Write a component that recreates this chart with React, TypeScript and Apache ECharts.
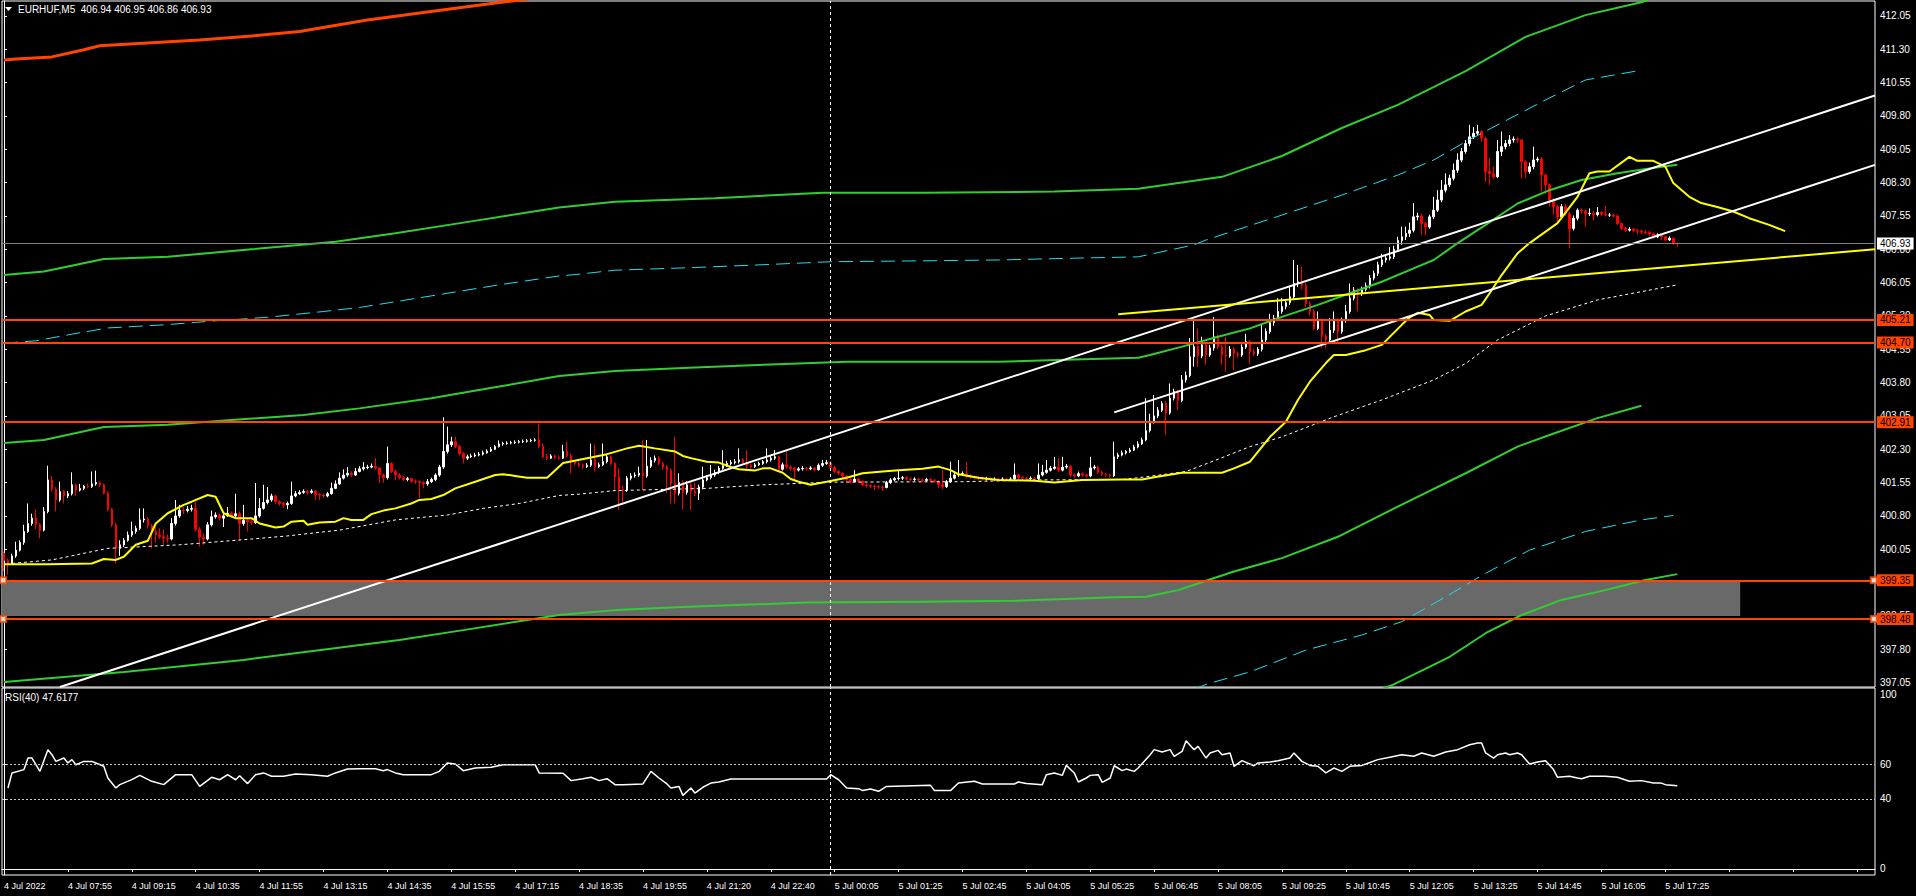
import React, { useEffect, useRef } from "react";
import * as echarts from "echarts";

const FONT = "'Liberation Sans', Arial, sans-serif";
const ORANGE = "#FF4500";
const GREEN = "#32CD32";
const CYAN = "#22DDEE";
const YELLOW = "#FFFF00";

const symbolName = "EURHUF,M5";
const rsiName = "RSI(40)";
const totalSlots = 469;

const timeLabels = [
  "4 Jul 2022", "4 Jul 07:55", "4 Jul 09:15", "4 Jul 10:35", "4 Jul 11:55", "4 Jul 13:15", "4 Jul 14:35",
  "4 Jul 15:55", "4 Jul 17:15", "4 Jul 18:35", "4 Jul 19:55", "4 Jul 21:20", "4 Jul 22:40", "5 Jul 00:05",
  "5 Jul 01:25", "5 Jul 02:45", "5 Jul 04:05", "5 Jul 05:25", "5 Jul 06:45", "5 Jul 08:05", "5 Jul 09:25",
  "5 Jul 10:45", "5 Jul 12:05", "5 Jul 13:25", "5 Jul 14:45", "5 Jul 16:05", "5 Jul 17:25",
];
const labelEvery = 16;

const firstOpen = 399.96;
const closes = [
  399.80, 399.73, 399.90, 400.03, 400.20, 400.45, 400.63, 400.75, 400.60, 400.48,
  400.90, 401.61, 401.40, 401.16, 401.35, 401.25, 401.30, 401.50, 401.38, 401.42,
  401.47, 401.46, 401.52, 401.55, 401.50, 401.31, 400.95, 400.60, 400.07, 400.15,
  400.25, 400.37, 400.45, 400.52, 400.71, 400.73, 400.58, 400.45, 400.37, 400.33,
  400.30, 400.28, 400.63, 400.80, 400.93, 400.92, 400.95, 400.97, 400.50, 400.32,
  400.28, 400.60, 400.78, 400.82, 400.75, 400.80, 400.86, 400.80, 400.85, 400.63,
  400.70, 400.67, 400.65, 400.80, 400.97, 401.10, 401.16, 401.25, 401.12, 401.08,
  401.05, 401.08, 401.25, 401.30, 401.33, 401.35, 401.33, 401.36, 401.28, 401.27,
  401.25, 401.30, 401.42, 401.52, 401.65, 401.72, 401.76, 401.72, 401.80, 401.86,
  401.89, 401.90, 401.92, 401.88, 401.72, 401.66, 401.98, 401.80, 401.72, 401.66,
  401.62, 401.64, 401.58, 401.57, 401.55, 401.52, 401.57, 401.62, 401.72, 401.90,
  402.25, 402.40, 402.47, 402.36, 402.20, 402.10, 402.13, 402.15, 402.17, 402.19,
  402.22, 402.26, 402.30, 402.36, 402.42, 402.43, 402.44, 402.45, 402.46, 402.47,
  402.48, 402.49, 402.50, 402.51, 402.36, 402.13, 402.10, 402.15, 402.12, 402.10,
  402.25, 402.15, 402.02, 401.98, 401.94, 401.91, 401.94, 402.06, 401.91, 401.95,
  402.02, 402.13, 401.98, 401.68, 401.40, 401.38, 401.65, 401.70, 401.72, 401.76,
  401.70, 401.92, 402.05, 402.10, 401.98, 401.90, 401.83, 401.53, 401.31, 401.55,
  401.33, 401.50, 401.35, 401.31, 401.45, 401.61, 401.66, 401.72, 401.78, 401.87,
  401.93, 401.98, 402.00, 402.02, 402.06, 401.98, 401.94, 401.91, 401.95, 401.98,
  402.02, 402.06, 402.10, 402.13, 401.85, 401.95, 401.90, 401.87, 401.83, 401.86,
  401.87, 401.86, 401.88, 401.84, 401.94, 401.98, 402.00, 401.89, 401.80, 401.76,
  401.70, 401.62, 401.57, 401.63, 401.58, 401.50, 401.48, 401.47, 401.46, 401.45,
  401.44, 401.55, 401.61, 401.64, 401.65, 401.66, 401.63, 401.62, 401.63, 401.61,
  401.60, 401.62, 401.60, 401.58, 401.50, 401.46, 401.57, 401.65, 401.72, 401.74,
  401.75, 401.70, 401.68, 401.66, 401.65, 401.63, 401.64, 401.62, 401.63, 401.62,
  401.63, 401.62, 401.63, 401.72, 401.66, 401.65, 401.64, 401.65, 401.64, 401.72,
  401.78, 401.83, 401.87, 401.90, 401.83, 401.90, 401.92, 401.72, 401.70, 401.75,
  401.72, 401.70, 401.88, 401.90, 401.78, 401.74, 401.72, 401.70, 402.13, 402.17,
  402.22, 402.25, 402.28, 402.35, 402.42, 402.51, 402.72, 402.92, 403.05, 403.18,
  403.33, 403.12, 403.45, 403.60, 403.40, 403.86, 403.96, 404.38, 404.61, 404.40,
  404.65, 404.42, 404.58, 404.83, 404.60, 404.42, 404.40, 404.55, 404.45, 404.42,
  404.60, 404.72, 404.50, 404.45, 404.55, 404.76, 404.95, 405.15, 405.25, 405.40,
  405.51, 405.60, 405.73, 406.03, 406.07, 405.99, 405.58, 405.40, 405.02, 405.21,
  404.85, 404.76, 404.98, 405.21, 404.95, 405.20, 405.40, 405.70, 405.88, 405.80,
  405.90, 405.98, 406.15, 406.26, 406.45, 406.56, 406.60, 406.63, 406.80, 407.00,
  407.08, 407.16, 407.23, 407.53, 407.55, 407.38, 407.30, 407.53, 407.68, 407.91,
  408.13, 408.25, 408.40, 408.58, 408.81, 409.00, 409.18, 409.33, 409.41, 409.45,
  409.30, 408.55, 408.50, 408.43, 409.00, 409.11, 409.18, 409.26, 409.28, 409.26,
  408.77, 408.55, 408.66, 408.81, 408.83, 408.47, 408.25, 407.91, 407.76, 407.53,
  407.76, 407.60, 407.27, 407.50, 407.68, 407.66, 407.60, 407.61, 407.58, 407.63,
  407.59, 407.57, 407.57, 407.55, 407.38, 407.27, 407.23, 407.25, 407.22, 407.21,
  407.19, 407.18, 407.15, 407.08, 407.12, 407.08, 407.01, 407.05, 406.94, 406.93,
];
const highs = [
  400.00, 399.84, 399.95, 400.22, 400.25, 400.60, 401.08, 400.85, 400.95, 400.64,
  401.00, 401.93, 401.70, 401.45, 401.57, 401.38, 401.36, 401.78, 401.53, 401.52,
  401.50, 401.53, 401.80, 401.82, 401.58, 401.53, 401.35, 400.98, 400.65, 400.25,
  400.30, 400.45, 400.67, 400.58, 400.97, 400.97, 400.78, 400.62, 400.55, 400.52,
  400.50, 400.38, 400.75, 401.16, 401.05, 401.00, 401.02, 401.05, 401.12, 400.55,
  400.40, 400.66, 400.92, 400.88, 400.85, 400.84, 401.00, 400.90, 401.30, 400.90,
  401.05, 400.75, 400.72, 401.54, 401.20, 401.50, 401.45, 401.30, 401.28, 401.15,
  401.12, 401.12, 401.57, 401.36, 401.38, 401.40, 401.38, 401.40, 401.38, 401.32,
  401.30, 401.34, 401.55, 401.60, 401.78, 401.85, 401.90, 401.80, 401.88, 401.92,
  402.01, 401.95, 401.98, 402.10, 401.90, 401.75, 402.36, 402.00, 401.84, 401.76,
  401.70, 401.68, 401.66, 401.62, 401.60, 401.58, 401.63, 401.66, 401.76, 401.95,
  403.02, 402.81, 402.58, 402.58, 402.40, 402.24, 402.18, 402.20, 402.22, 402.24,
  402.27, 402.30, 402.35, 402.40, 402.50, 402.47, 402.48, 402.49, 402.50, 402.51,
  402.52, 402.53, 402.54, 402.55, 402.88, 402.43, 402.20, 402.19, 402.18, 402.16,
  402.40, 402.47, 402.20, 402.06, 402.02, 401.98, 401.99, 402.43, 402.40, 402.00,
  402.43, 402.20, 402.16, 402.00, 401.87, 401.48, 401.70, 401.76, 401.78, 401.91,
  402.51, 402.51, 402.12, 402.16, 402.14, 402.02, 401.95, 401.87, 402.58, 401.76,
  401.60, 401.58, 401.55, 401.55, 401.50, 401.91, 401.72, 401.95, 401.84, 401.92,
  402.28, 402.04, 402.06, 402.08, 402.32, 402.10, 402.28, 401.98, 401.99, 402.02,
  402.06, 402.32, 402.15, 402.28, 402.15, 402.00, 402.28, 401.94, 401.90, 401.90,
  401.92, 401.90, 401.92, 401.90, 401.98, 402.06, 402.06, 402.03, 401.92, 401.83,
  401.78, 401.72, 401.65, 401.83, 401.66, 401.60, 401.53, 401.51, 401.50, 401.49,
  401.48, 401.59, 401.65, 401.68, 401.83, 401.70, 401.69, 401.66, 401.67, 401.66,
  401.64, 401.66, 401.65, 401.63, 401.60, 401.83, 401.61, 402.02, 401.78, 402.06,
  401.80, 402.02, 401.74, 401.71, 401.70, 401.68, 401.68, 401.67, 401.67, 401.66,
  401.67, 401.66, 401.67, 401.98, 401.75, 401.70, 401.68, 401.69, 401.68, 401.98,
  401.95, 402.06, 401.92, 402.13, 402.10, 402.13, 401.97, 401.95, 401.76, 401.80,
  401.78, 401.75, 402.13, 401.95, 401.93, 401.82, 401.77, 401.75, 402.47, 402.22,
  402.27, 402.28, 402.33, 402.40, 402.48, 402.56, 403.45, 403.10, 403.52, 403.25,
  403.38, 403.38, 403.78, 403.66, 403.64, 403.97, 404.05, 404.80, 405.21, 405.02,
  404.83, 404.70, 404.65, 405.28, 404.88, 404.66, 404.83, 404.62, 404.60, 404.50,
  404.66, 404.90, 404.76, 404.55, 404.60, 405.10, 405.02, 405.35, 405.32, 405.70,
  405.70, 405.66, 405.95, 406.56, 406.45, 406.41, 406.05, 405.62, 405.45, 405.40,
  405.25, 404.90, 405.25, 405.40, 405.25, 405.26, 405.55, 406.03, 405.95, 405.92,
  405.96, 406.05, 406.22, 406.32, 406.52, 406.70, 406.68, 406.85, 406.88, 407.08,
  407.31, 407.31, 407.40, 407.84, 407.62, 407.60, 407.42, 407.58, 407.98, 408.13,
  408.36, 408.51, 408.48, 408.73, 408.96, 409.08, 409.26, 409.60, 409.55, 409.60,
  409.48, 409.33, 408.85, 408.66, 409.26, 409.45, 409.26, 409.37, 409.34, 409.32,
  409.28, 408.80, 408.75, 409.11, 408.88, 408.88, 408.50, 408.28, 407.95, 407.80,
  407.82, 407.82, 407.64, 407.56, 407.72, 407.72, 407.70, 407.72, 407.66, 407.75,
  407.66, 407.78, 407.62, 407.60, 407.58, 407.40, 407.30, 407.30, 407.28, 407.26,
  407.24, 407.23, 407.21, 407.17, 407.16, 407.14, 407.10, 407.09, 407.06, 406.95,
];
const lows = [
  399.55, 399.47, 399.70, 399.86, 400.00, 400.15, 400.42, 400.58, 400.50, 400.30,
  400.45, 400.86, 401.35, 400.90, 401.12, 401.08, 401.20, 401.26, 401.25, 401.35,
  401.38, 401.42, 401.43, 401.48, 401.45, 401.28, 400.90, 400.55, 399.73, 399.90,
  400.10, 400.22, 400.33, 400.40, 400.48, 400.65, 400.52, 400.07, 400.20, 400.28,
  400.15, 400.20, 400.25, 400.58, 400.76, 400.84, 400.88, 400.90, 400.45, 400.11,
  400.15, 400.25, 400.56, 400.74, 400.70, 400.55, 400.78, 400.76, 400.78, 400.26,
  400.58, 400.45, 400.60, 400.62, 400.76, 400.94, 401.06, 401.12, 401.08, 401.03,
  400.98, 400.95, 401.05, 401.22, 401.27, 401.30, 401.28, 401.30, 401.15, 401.16,
  401.20, 401.22, 401.28, 401.40, 401.50, 401.62, 401.68, 401.68, 401.70, 401.78,
  401.82, 401.85, 401.87, 401.84, 401.54, 401.55, 401.62, 401.76, 401.60, 401.62,
  401.58, 401.58, 401.54, 401.52, 401.20, 401.42, 401.48, 401.54, 401.58, 401.68,
  401.86, 402.20, 402.35, 402.32, 402.16, 401.98, 402.06, 402.10, 402.12, 402.14,
  402.16, 402.20, 402.24, 402.28, 402.34, 402.38, 402.40, 402.41, 402.42, 402.43,
  402.44, 402.45, 402.46, 402.47, 402.32, 402.10, 402.05, 402.08, 402.08, 402.06,
  402.08, 402.12, 401.76, 401.94, 401.90, 401.86, 401.88, 401.90, 401.80, 401.88,
  401.92, 401.98, 401.94, 401.38, 400.93, 401.10, 401.34, 401.60, 401.66, 401.68,
  401.38, 401.66, 401.88, 402.00, 401.94, 401.84, 401.31, 401.08, 401.08, 401.26,
  400.95, 401.28, 400.93, 401.24, 401.16, 401.40, 401.58, 401.62, 401.68, 401.74,
  401.84, 401.90, 401.94, 401.96, 401.98, 401.94, 401.83, 401.86, 401.88, 401.92,
  401.95, 401.98, 402.02, 402.06, 401.80, 401.82, 401.86, 401.82, 401.61, 401.80,
  401.82, 401.82, 401.83, 401.80, 401.82, 401.90, 401.95, 401.85, 401.76, 401.72,
  401.65, 401.55, 401.53, 401.55, 401.54, 401.47, 401.44, 401.42, 401.38, 401.41,
  401.36, 401.42, 401.52, 401.58, 401.60, 401.61, 401.60, 401.58, 401.59, 401.58,
  401.56, 401.57, 401.56, 401.54, 401.42, 401.40, 401.43, 401.54, 401.62, 401.68,
  401.70, 401.66, 401.64, 401.62, 401.61, 401.59, 401.60, 401.58, 401.59, 401.58,
  401.59, 401.58, 401.59, 401.60, 401.62, 401.61, 401.60, 401.61, 401.60, 401.61,
  401.69, 401.75, 401.80, 401.84, 401.79, 401.80, 401.86, 401.68, 401.66, 401.67,
  401.68, 401.66, 401.67, 401.84, 401.74, 401.70, 401.68, 401.66, 401.68, 402.08,
  402.14, 402.18, 402.22, 402.26, 402.32, 402.40, 402.48, 402.68, 402.88, 403.00,
  403.14, 402.62, 403.08, 403.40, 403.18, 403.36, 403.80, 403.92, 404.16, 404.16,
  404.35, 404.20, 404.38, 404.52, 404.55, 404.20, 404.05, 404.36, 404.08, 404.36,
  404.38, 404.56, 404.23, 404.40, 404.40, 404.50, 404.70, 404.90, 405.08, 405.20,
  405.35, 405.45, 405.55, 405.68, 405.95, 405.90, 405.50, 405.30, 404.98, 404.98,
  404.57, 404.57, 404.70, 404.92, 404.68, 404.90, 405.15, 405.35, 405.65, 405.40,
  405.75, 405.85, 405.92, 406.10, 406.20, 406.40, 406.50, 406.55, 406.58, 406.75,
  406.90, 407.01, 407.08, 407.18, 407.45, 407.12, 407.12, 407.26, 407.48, 407.64,
  407.86, 408.08, 408.20, 408.35, 408.52, 408.76, 408.95, 409.12, 409.28, 409.36,
  409.22, 408.32, 408.25, 408.38, 408.40, 408.90, 409.05, 409.12, 409.20, 409.20,
  408.40, 408.40, 408.50, 408.60, 408.76, 408.10, 408.05, 407.76, 407.57, 407.38,
  407.48, 407.55, 406.82, 407.22, 407.45, 407.60, 407.31, 407.55, 407.45, 407.54,
  407.55, 407.54, 407.53, 407.51, 407.35, 407.23, 407.19, 407.20, 407.18, 407.14,
  407.14, 407.14, 407.10, 407.04, 407.05, 407.00, 406.98, 406.99, 406.90, 406.86,
];

// indicator curves, [bar index, price]
const envelopeTop = [[0, 411.06], [3, 411.08], [12, 411.13], [20, 411.29], [24, 411.38], [37, 411.45], [49, 411.51], [62, 411.60], [74, 411.70], [91, 411.96], [106, 412.14], [123, 412.34], [139, 412.52]];
const maFast = [[0, 399.71], [11, 399.71], [22, 399.73], [25, 399.83], [28, 399.81], [30, 399.88], [33, 400.15], [36, 400.24], [38, 400.63], [41, 400.86], [45, 401.05], [47, 401.12], [51, 401.27], [53, 401.23], [55, 400.86], [58, 400.75], [62, 400.75], [64, 400.63], [68, 400.54], [70, 400.56], [72, 400.67], [75, 400.69], [76, 400.60], [79, 400.65], [83, 400.67], [85, 400.75], [87, 400.71], [90, 400.71], [92, 400.84], [95, 400.92], [98, 400.97], [102, 401.08], [104, 401.16], [107, 401.18], [110, 401.27], [113, 401.42], [118, 401.57], [123, 401.72], [125, 401.74], [128, 401.70], [131, 401.66], [136, 401.66], [140, 401.99], [146, 402.10], [151, 402.19], [156, 402.32], [159, 402.38], [163, 402.32], [168, 402.25], [170, 402.15], [172, 402.10], [176, 402.02], [179, 402.00], [182, 401.90], [184, 401.85], [188, 401.82], [190, 401.87], [192, 401.87], [195, 401.77], [197, 401.63], [199, 401.57], [202, 401.50], [206, 401.57], [211, 401.66], [215, 401.76], [220, 401.80], [224, 401.83], [230, 401.86], [234, 401.91], [237, 401.83], [239, 401.74], [244, 401.66], [249, 401.61], [258, 401.59], [263, 401.55], [270, 401.61], [280, 401.62], [285, 401.62], [288, 401.67], [295, 401.77], [305, 401.77], [308, 401.87], [312, 402.02], [317, 402.58], [321, 402.92], [324, 403.41], [327, 403.82], [331, 404.24], [333, 404.42], [336, 404.42], [341, 404.53], [345, 404.65], [347, 404.83], [350, 405.10], [352, 405.27], [354, 405.37], [357, 405.32], [358, 405.21], [362, 405.19], [366, 405.40], [370, 405.55], [372, 405.81], [375, 406.22], [379, 406.71], [382, 406.94], [389, 407.39], [394, 407.98], [397, 408.51], [399, 408.55], [402, 408.55], [407, 408.88], [409, 408.79], [413, 408.79], [416, 408.66], [418, 408.29], [422, 407.98], [425, 407.84], [429, 407.75], [433, 407.65], [437, 407.50], [442, 407.35], [446, 407.21]];
const maSlow = [[2, 399.73], [12, 399.81], [26, 400.07], [44, 400.15], [62, 400.28], [71, 400.35], [84, 400.48], [98, 400.71], [111, 400.82], [120, 400.97], [129, 401.08], [139, 401.26], [144, 401.29], [153, 401.37], [176, 401.42], [190, 401.50], [207, 401.56], [240, 401.57], [259, 401.61], [280, 401.62], [286, 401.68], [296, 401.80], [303, 402.04], [312, 402.36], [320, 402.58], [333, 403.03], [345, 403.41], [358, 403.86], [366, 404.23], [374, 404.76], [386, 405.30], [399, 405.66], [419, 406.00]];
const bandUpperOuter = [[0, 406.22], [10, 406.30], [25, 406.58], [41, 406.63], [62, 406.80], [83, 406.97], [98, 407.16], [115, 407.40], [139, 407.74], [153, 407.87], [178, 407.95], [205, 408.07], [230, 408.07], [263, 408.10], [284, 408.16], [305, 408.43], [320, 408.90], [335, 409.53], [349, 410.05], [366, 410.81], [381, 411.58], [396, 412.07], [410, 412.36], [414, 412.50]];
const bandUpperMid = [[0, 404.69], [8, 404.74], [17, 404.89], [26, 405.03], [40, 405.10], [53, 405.19], [66, 405.27], [80, 405.40], [89, 405.49], [98, 405.62], [111, 405.81], [124, 406.00], [139, 406.20], [144, 406.24], [153, 406.33], [173, 406.39], [192, 406.46], [207, 406.52], [230, 406.54], [249, 406.56], [268, 406.60], [284, 406.63], [298, 406.90], [301, 407.01], [320, 407.57], [335, 408.02], [349, 408.47], [358, 408.81], [366, 409.22], [374, 409.60], [386, 410.16], [396, 410.61], [410, 410.83]];
const bandUpperInner = [[0, 402.44], [10, 402.51], [25, 402.80], [41, 402.85], [57, 402.96], [75, 403.07], [89, 403.22], [107, 403.45], [124, 403.71], [139, 403.95], [153, 404.06], [173, 404.14], [192, 404.21], [211, 404.27], [249, 404.27], [268, 404.32], [284, 404.36], [287, 404.42], [295, 404.61], [304, 404.83], [312, 405.02], [320, 405.28], [329, 405.55], [337, 405.81], [345, 406.07], [354, 406.41], [358, 406.56], [364, 406.94], [371, 407.35], [379, 407.83], [387, 408.13], [395, 408.36], [404, 408.51], [412, 408.62], [419, 408.70]];
const bandLowerInner = [[0, 397.06], [30, 397.29], [60, 397.56], [99, 398.01], [115, 398.23], [139, 398.57], [153, 398.68], [173, 398.76], [201, 398.85], [230, 398.87], [253, 398.89], [278, 398.97], [286, 398.98], [294, 399.13], [301, 399.34], [308, 399.55], [320, 399.85], [334, 400.33], [349, 401.01], [366, 401.76], [379, 402.36], [387, 402.62], [399, 403.00], [410, 403.28]];
const bandLowerMid = [[298, 396.90], [301, 397.01], [312, 397.29], [326, 397.78], [340, 398.12], [350, 398.42], [361, 398.98], [371, 399.51], [382, 400.03], [396, 400.45], [410, 400.71], [418, 400.81]];
const bandLowerOuter = [[345, 396.90], [348, 397.01], [362, 397.63], [371, 398.16], [380, 398.57], [390, 398.91], [401, 399.13], [411, 399.36], [419, 399.49]];

const rsiPoints = [[1, 46.3], [2, 54.9], [5, 56.8], [6, 63.4], [7, 63.4], [9, 55.8], [11, 68.2], [12, 65.3], [13, 61.5], [15, 63.4], [16, 60.6], [17, 62.5], [18, 59.6], [20, 61.5], [22, 61.5], [23, 60.6], [25, 58.7], [26, 52.0], [28, 46.3], [29, 48.2], [32, 51.1], [34, 53.5], [37, 50.1], [40, 48.2], [43, 53.9], [47, 53.9], [49, 47.2], [52, 52.4], [54, 51.0], [56, 53.9], [58, 51.0], [59, 53.3], [61, 48.8], [63, 53.9], [65, 54.9], [67, 53.0], [70, 53.0], [73, 54.3], [77, 53.9], [81, 53.0], [83, 54.9], [86, 57.1], [89, 57.3], [93, 57.3], [95, 56.2], [96, 56.8], [98, 54.9], [100, 53.9], [107, 53.9], [109, 55.8], [111, 60.6], [113, 60.0], [115, 56.2], [118, 57.7], [122, 58.1], [125, 59.6], [133, 59.6], [134, 54.9], [140, 54.7], [142, 50.5], [145, 51.6], [147, 52.4], [149, 50.5], [151, 51.6], [153, 48.2], [155, 48.2], [160, 48.6], [162, 55.8], [164, 52.0], [166, 48.6], [167, 46.3], [169, 47.2], [170, 42.1], [172, 46.3], [173, 43.4], [175, 46.7], [177, 49.1], [179, 49.7], [182, 51.4], [206, 51.4], [207, 53.9], [209, 51.0], [211, 46.3], [214, 45.9], [215, 44.8], [217, 45.7], [219, 44.4], [221, 47.2], [232, 47.8], [233, 44.8], [237, 44.8], [239, 49.1], [243, 50.1], [245, 48.6], [253, 48.6], [254, 49.7], [256, 48.8], [260, 48.2], [261, 53.9], [263, 54.9], [265, 53.5], [266, 59.2], [268, 54.9], [269, 49.7], [271, 52.0], [272, 53.5], [274, 53.9], [275, 49.5], [277, 52.0], [278, 59.0], [280, 56.2], [281, 57.1], [283, 55.8], [284, 57.7], [287, 65.3], [288, 68.2], [290, 66.9], [292, 68.2], [293, 64.4], [295, 67.2], [296, 73.3], [298, 68.2], [299, 70.1], [301, 63.4], [302, 66.3], [304, 67.8], [305, 65.3], [307, 66.3], [308, 58.7], [310, 61.9], [313, 59.0], [314, 60.6], [317, 61.1], [319, 61.9], [322, 63.4], [323, 66.3], [325, 61.5], [327, 59.2], [329, 58.7], [331, 54.9], [333, 57.7], [335, 55.8], [337, 58.7], [340, 59.2], [341, 60.0], [344, 62.5], [347, 63.8], [350, 65.3], [353, 64.4], [355, 66.3], [358, 64.4], [361, 66.9], [364, 68.2], [367, 71.0], [369, 72.0], [370, 72.0], [371, 66.3], [373, 63.4], [374, 65.3], [376, 66.3], [377, 65.3], [379, 66.3], [380, 65.3], [382, 60.0], [384, 61.1], [386, 61.9], [388, 56.8], [389, 52.4], [392, 53.0], [394, 52.0], [395, 51.6], [397, 53.0], [401, 53.0], [404, 52.4], [407, 50.1], [410, 50.5], [413, 49.1], [415, 49.1], [416, 48.2], [419, 47.6177]];

// drawn objects
const channelUpper = [[14, 396.95], [468.5, 410.26]];
const channelLower = [[278, 403.13], [468.5, 408.70]];
const yellowTrend = [[279, 405.34], [468.5, 406.80]];
const levelLines = [405.21, 404.70, 402.91, 399.35, 398.48];
const anchoredLevels = [399.35, 398.48];
const zone = { top: 399.33, bottom: 398.55, startBar: -0.5, endBar: 434.75 };
const bidPrice = 406.93;
const daySeparatorBar = 207;

const priceTicks = [397.05, 397.80, 398.55, 399.30, 400.05, 400.80, 401.55, 402.30, 403.05, 403.80, 404.55, 405.30, 406.05, 406.80, 407.55, 408.30, 409.05, 409.80, 410.55, 411.30, 412.05];
const rsiTicks = [0, 40, 60, 100];
const rsiLevels = [60, 40];
const priceMin = 396.95;
const priceMax = 412.3875;
const rsiMin = -3.43;
const rsiMax = 103.43;

function buildOption() {
  const cats = Array.from({ length: totalSlots }, (_, i) => String(i));
  const candles = closes.map((c, i) => [i === 0 ? firstOpen : closes[i - 1], c, lows[i], highs[i]]);
  const last = candles[candles.length - 1];
  const header = `${symbolName}  ${last[0].toFixed(2)} ${last[3].toFixed(2)} ${last[2].toFixed(2)} ${last[1].toFixed(2)}`;
  const rsiLast = rsiPoints[rsiPoints.length - 1][1];

  const line = (data: number[][], color: string, width: number, type: any, z: number, extra: any = {}) => ({
    type: "line",
    xAxisIndex: 1,
    yAxisIndex: 0,
    data,
    showSymbol: false,
    symbol: "none",
    silent: true,
    z,
    lineStyle: { color, width, type },
    ...extra,
  });

  const boxLabel = (bg: string) => ({
    show: true,
    position: "end",
    distance: 2,
    formatter: (p: any) => Number(p.value).toFixed(2),
    backgroundColor: bg,
    color: "#000",
    fontSize: 10,
    fontFamily: FONT,
    lineHeight: 11,
    padding: [1, 3, 0, 3],
  });

  return {
    animation: false,
    backgroundColor: "#000",
    grid: [
      { left: 2, top: 1, width: 1873, height: 686, show: true, borderColor: "#fff", borderWidth: 1, backgroundColor: "transparent" },
      { left: 2, top: 688, width: 1873, height: 187, show: true, borderColor: "#fff", borderWidth: 1, backgroundColor: "transparent" },
    ],
    xAxis: [
      { type: "category", gridIndex: 0, data: cats, boundaryGap: true, axisLine: { show: false }, axisTick: { show: false }, axisLabel: { show: false }, splitLine: { show: false } },
      { type: "value", gridIndex: 0, min: -0.5, max: totalSlots - 0.5, show: false },
      {
        type: "category", gridIndex: 1, data: cats, boundaryGap: true,
        axisLine: { show: true, lineStyle: { color: "#fff" } },
        axisTick: { show: true, interval: labelEvery - 1, alignWithLabel: true, length: 3, lineStyle: { color: "#fff" } },
        axisLabel: {
          interval: labelEvery - 1, align: "left", color: "#fff", fontSize: 9, fontFamily: FONT, margin: 6,
          formatter: (_v: string, i: number) => timeLabels[i / labelEvery] ?? "",
        },
        splitLine: { show: false },
      },
      { type: "value", gridIndex: 1, min: -0.5, max: totalSlots - 0.5, show: false },
    ],
    yAxis: [
      {
        type: "value", gridIndex: 0, position: "right", min: priceMin, max: priceMax,
        splitLine: { show: false },
        axisLine: { show: true, lineStyle: { color: "#fff" } },
        axisTick: { show: true, customValues: priceTicks, length: 3, lineStyle: { color: "#fff" } },
        axisLabel: { customValues: priceTicks, formatter: (v: number) => v.toFixed(2), color: "#fff", fontSize: 10, fontFamily: FONT, margin: 5 },
      },
      {
        type: "value", gridIndex: 1, position: "right", min: rsiMin, max: rsiMax,
        splitLine: { show: false },
        axisLine: { show: true, lineStyle: { color: "#fff" } },
        axisTick: { show: true, customValues: rsiTicks, length: 3, lineStyle: { color: "#fff" } },
        axisLabel: { customValues: rsiTicks, formatter: (v: number) => String(v), color: "#fff", fontSize: 10, fontFamily: FONT, margin: 5 },
      },
    ],
    series: [
      line(envelopeTop, ORANGE, 3, "solid", 1, {
        markArea: {
          silent: true,
          itemStyle: { color: "#696969" },
          data: [[{ xAxis: zone.startBar, yAxis: zone.top }, { xAxis: zone.endBar, yAxis: zone.bottom }]],
        },
      }),
      {
        type: "candlestick",
        xAxisIndex: 0,
        yAxisIndex: 0,
        data: candles,
        barWidth: 2,
        silent: true,
        z: 2,
        itemStyle: { color: "#ffffff", color0: "#ff0000", borderColor: "#ffffff", borderColor0: "#ff0000", borderWidth: 1 },
        markLine: {
          silent: true,
          symbol: "none",
          data: [{ xAxis: String(daySeparatorBar), lineStyle: { color: "#ffffff", width: 1, type: [3, 3] }, label: { show: false } }],
        },
      },
      line(bandUpperOuter, GREEN, 2, "solid", 3),
      line(bandUpperMid, CYAN, 1, [14, 7], 3),
      line(bandUpperInner, GREEN, 2, "solid", 3),
      line(bandLowerInner, GREEN, 2, "solid", 3),
      line(bandLowerMid, CYAN, 1, [14, 7], 3),
      line(bandLowerOuter, GREEN, 2, "solid", 3),
      line(maSlow, "#ffffff", 1, [3, 3], 3),
      line(maFast, YELLOW, 2, "solid", 3),
      line(channelUpper, "#ffffff", 2, "solid", 4),
      line(channelLower, "#ffffff", 2, "solid", 4),
      line(yellowTrend, YELLOW, 2, "solid", 4, {
        markLine: {
          silent: true,
          symbol: "none",
          data: [
            ...levelLines.map((v) => ({ yAxis: v, lineStyle: { color: ORANGE, width: 2, type: "solid" }, label: boxLabel(ORANGE) })),
            { yAxis: bidPrice, lineStyle: { color: "#808080", width: 1, type: "solid" }, label: boxLabel("#ffffff") },
          ],
        },
      }),
      {
        type: "scatter",
        xAxisIndex: 1,
        yAxisIndex: 0,
        silent: true,
        z: 6,
        symbol: "rect",
        symbolSize: 6,
        itemStyle: { color: "#ffffff", borderColor: ORANGE, borderWidth: 2 },
        data: anchoredLevels.flatMap((v) => [[-0.2, v], [totalSlots - 0.8, v]]),
      },
      {
        type: "line",
        xAxisIndex: 3,
        yAxisIndex: 1,
        data: rsiPoints,
        showSymbol: false,
        symbol: "none",
        silent: true,
        z: 3,
        lineStyle: { color: "#ffffff", width: 1.5 },
        markLine: {
          silent: true,
          symbol: "none",
          data: [
            ...rsiLevels.map((v) => ({ yAxis: v, lineStyle: { color: "#c8c8c8", width: 1, type: [2, 2] }, label: { show: false } })),
            { xAxis: daySeparatorBar, lineStyle: { color: "#ffffff", width: 1, type: [3, 3] }, label: { show: false } },
          ],
        },
      },
    ],
    graphic: [
      { type: "polygon", silent: true, shape: { points: [[5, 7], [12, 7], [8.5, 11]] }, style: { fill: "#ffffff" } },
      { type: "text", silent: true, x: 18, y: 4, style: { text: header, fill: "#ffffff", font: `10px ${FONT}`, verticalAlign: "top" } },
      { type: "text", silent: true, x: 5, y: 692, style: { text: `${rsiName} ${rsiLast}`, fill: "#ffffff", font: `10px ${FONT}`, verticalAlign: "top" } },
    ],
  };
}

export default function App() {
  const ref = useRef<HTMLDivElement>(null);
  useEffect(() => {
    if (!ref.current) return;
    const chart = echarts.init(ref.current, null, { renderer: "svg" });
    chart.setOption(buildOption() as any);
    return () => chart.dispose();
  }, []);
  return (
    <div
      ref={ref}
      style={{ position: "fixed", left: 0, top: 0, width: 1916, height: 896, background: "#000" }}
    />
  );
}
